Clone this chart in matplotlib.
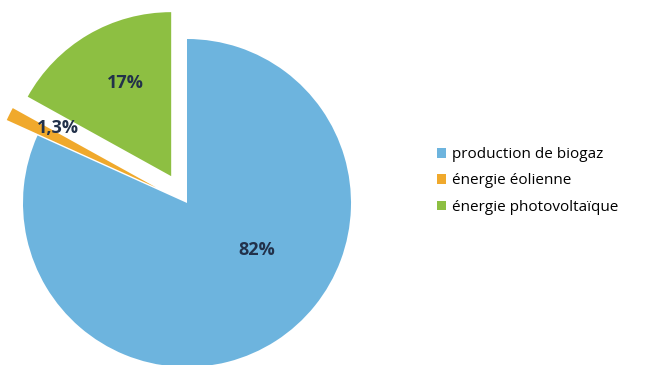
import matplotlib
matplotlib.use("Agg")
import matplotlib.pyplot as plt
from matplotlib.patches import Patch

categories = ["production de biogaz", "énergie éolienne", "énergie photovoltaïque"]
values = [82, 1.3, 17]
value_labels = ["82%", "1,3%", "17%"]
colors = ["#6db4de", "#f0a92c", "#8dbf42"]
explode = [0.0, 0.21, 0.19]

W, H = 648, 365
fig = plt.figure(figsize=(W / 100, H / 100), dpi=100)
ax = fig.add_axes([0, 0, 1, 1])

cx, cy, R = 187, H - 203, 164
wedges, _ = ax.pie(values, colors=colors, explode=[e * R for e in explode],
                   startangle=90, counterclock=False, center=(cx, cy), radius=R,
                   wedgeprops=dict(linewidth=0), frame=True)
ax.set_xlim(0, W)
ax.set_ylim(0, H)
ax.set_aspect("equal")
ax.axis("off")

label_pos = [(257, 250), (58, 128), (125, 83)]
for (x, y), t in zip(label_pos, value_labels):
    ax.text(x, H - y, t, ha="center", va="center", fontsize=13,
            fontweight="bold", color="#22314a", family="Open Sans")

handles = [Patch(facecolor=c, edgecolor="none") for c in colors]
fig.legend(handles, categories, loc="center left",
           bbox_to_anchor=(437 / W, 1 - 181 / H), frameon=False,
           prop=dict(family="Open Sans", size=11),
           handlelength=0.6, handleheight=0.6, handletextpad=0.35,
           labelspacing=0.75, borderpad=0, borderaxespad=0)

fig.savefig("out.png", dpi=100)
